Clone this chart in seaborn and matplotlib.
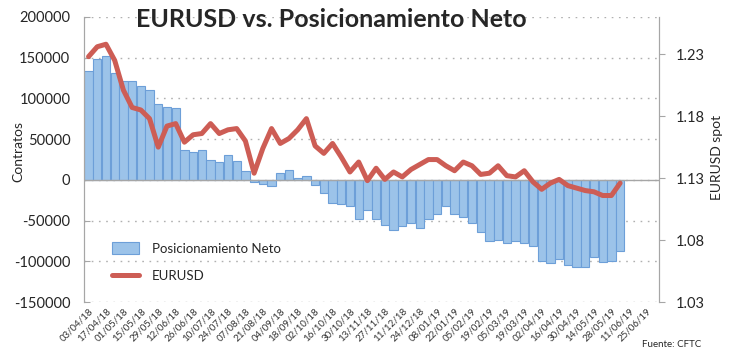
import matplotlib
matplotlib.use("Agg")
import matplotlib.pyplot as plt
import numpy as np
import pandas as pd
import seaborn as sns

# weekly CFTC report dates (the last four have no data yet)
fechas = ["03/04/18", "10/04/18", "17/04/18", "24/04/18", "01/05/18", "08/05/18",
          "15/05/18", "22/05/18", "29/05/18", "05/06/18", "12/06/18", "19/06/18",
          "26/06/18", "03/07/18", "10/07/18", "17/07/18", "24/07/18", "31/07/18",
          "07/08/18", "14/08/18", "21/08/18", "28/08/18", "04/09/18", "11/09/18",
          "18/09/18", "25/09/18", "02/10/18", "09/10/18", "16/10/18", "23/10/18",
          "30/10/18", "06/11/18", "13/11/18", "20/11/18", "27/11/18", "04/12/18",
          "11/12/18", "18/12/18", "24/12/18", "31/12/18", "08/01/19", "15/01/19",
          "22/01/19", "29/01/19", "05/02/19", "12/02/19", "19/02/19", "26/02/19",
          "05/03/19", "12/03/19", "19/03/19", "26/03/19", "02/04/19", "09/04/19",
          "16/04/19", "23/04/19", "30/04/19", "07/05/19", "14/05/19", "21/05/19",
          "28/05/19", "04/06/19", "11/06/19", "18/06/19", "25/06/19", "02/07/19"]

# net positioning (contracts)
posicion = [134000, 148000, 152000, 131000, 121000, 121000, 115000, 110000, 93000, 89000,
            88000, 37000, 34000, 37000, 25000, 22000, 31000, 23000, 11000, -3000,
            -5000, -7000, 8000, 12500, 2700, 4700, -6700, -16000, -28000, -29000,
            -32500, -48000, -37000, -48000, -55000, -61000, -56000, -53000, -59000, -48000,
            -41500, -32500, -41500, -46000, -53000, -64000, -75000, -73500, -78000, -75500,
            -78000, -80500, -100000, -102000, -97000, -105000, -106500, -106500, -95000, -101000,
            -100000, -87500]

# EURUSD spot
eurusd = [1.228, 1.236, 1.238, 1.225, 1.201, 1.187, 1.185, 1.178, 1.155, 1.172,
          1.174, 1.159, 1.165, 1.166, 1.174, 1.166, 1.169, 1.170, 1.160, 1.134,
          1.154, 1.170, 1.158, 1.162, 1.169, 1.178, 1.156, 1.150, 1.158, 1.147,
          1.135, 1.143, 1.128, 1.138, 1.129, 1.135, 1.131, 1.137, 1.141, 1.145,
          1.145, 1.140, 1.136, 1.143, 1.140, 1.133, 1.134, 1.140, 1.132, 1.131,
          1.136, 1.127, 1.121, 1.126, 1.129, 1.124, 1.122, 1.120, 1.119, 1.116,
          1.116, 1.126]

BAR_COLOR = "#9cc3e9"
BAR_EDGE = "#6d9fd8"
LINE_COLOR = "#cd5d55"
AXIS_GREY = "#a6a6a6"

sns.set_style("white")
plt.rcParams["font.family"] = ["Lato", "DejaVu Sans"]

df = pd.DataFrame({"fecha": fechas[:len(posicion)], "pos": posicion})

fig = plt.figure(figsize=(7.45, 3.61), dpi=100)
ax = fig.add_axes([0.113, 0.163, 0.772, 0.790])

sns.barplot(data=df, x="fecha", y="pos", order=fechas, color=BAR_COLOR,
            saturation=1, edgecolor=BAR_EDGE, linewidth=0.8, width=0.95,
            label="Posicionamiento Neto", ax=ax)
if ax.get_legend() is not None:
    ax.get_legend().remove()

ax2 = ax.twinx()
sns.lineplot(x=np.arange(len(eurusd)), y=eurusd, color=LINE_COLOR, linewidth=3.6,
             label="EURUSD", ax=ax2)

# left axis
ax.set_ylim(-150000, 200000)
ax.set_yticks(np.arange(-150000, 200001, 50000))
ax.set_yticklabels([str(v) for v in range(-150000, 200001, 50000)], fontsize=10.5)
ax.yaxis.grid(True, linestyle=(0, (1.2, 4)), color="#b0b0b0", linewidth=1)
ax.axhline(0, color=AXIS_GREY, linewidth=1, zorder=1)
ax.set_xlabel("")
ax.set_ylabel("")

# right axis
ax2.set_ylim(1.03, 1.26)
ax2.set_yticks([1.03, 1.08, 1.13, 1.18, 1.23])
ax2.set_yticklabels(["1.03", "1.08", "1.13", "1.18", "1.23"], fontsize=10.5)
ax2.set_ylabel("")

for a in (ax, ax2):
    a.spines["top"].set_visible(False)
    a.spines["bottom"].set_visible(False)
    a.spines["left"].set_color(AXIS_GREY)
    a.spines["right"].set_color(AXIS_GREY)
ax.tick_params(axis="y", length=4, color=AXIS_GREY, direction="in", pad=10)
ax2.tick_params(axis="y", length=4, color=AXIS_GREY, direction="out", pad=8)

# category axis, one label every two weeks
ax.set_xlim(-0.5, 65.5)
ax.set_xticks(np.arange(0, len(fechas), 2))
ax.set_xticklabels(fechas[::2], rotation=45, ha="right", rotation_mode="anchor",
                   fontsize=7, color="#333333")
ax.tick_params(axis="x", length=0, pad=3)
ax2.set_xlabel("")

# legend
ax2.get_legend().remove()
h1, l1 = ax.get_legend_handles_labels()
h2, l2 = ax2.get_legend_handles_labels()
ax2.legend(h1 + h2, l1 + l2, loc="lower left", bbox_to_anchor=(0.028, 0.03),
           frameon=False, fontsize=9.5, handlelength=2.0, handleheight=1.0,
           handletextpad=1.0, labelspacing=1.1)

fig.text(0.445, 0.945, "EURUSD vs. Posicionamiento Neto", ha="center", va="center",
         fontsize=18, fontweight="bold")
fig.text(0.024, 0.58, "Contratos", rotation=90, ha="center", va="center", fontsize=10)
fig.text(0.963, 0.565, "EURUSD spot", rotation=90, ha="center", va="center", fontsize=10)
fig.text(0.902, 0.047, "Fuente: CFTC", ha="center", va="center", fontsize=7)

fig.savefig("out.png", dpi=100)
